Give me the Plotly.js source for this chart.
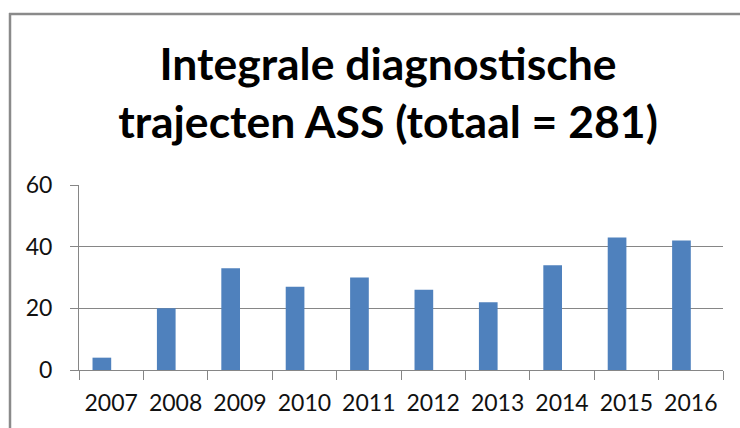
<!DOCTYPE html>
<html>
<head>
<meta charset="utf-8">
<script src="https://cdn.plot.ly/plotly-3.0.1.min.js"></script>
<style>
html,body{margin:0;padding:0;background:#fff;}
#chart{width:740px;height:428px;}
</style>
</head>
<body>
<div id="chart"></div>
<script>
const years = ["2007","2008","2009","2010","2011","2012","2013","2014","2015","2016"];
const counts = [4, 20, 33, 27, 30, 26, 22, 34, 43, 42];
const yTicks = [0, 20, 40, 60];
const titleText = "Integrale diagnostische<br>trajecten ASS (totaal = 281)";

const L = 79, R = 17, T = 185, B = 58, W = 740, H = 428;
const pw = W - L - R, ph = H - T - B;
const px = v => (v - L) / pw;
const py = v => (H - B - v) / ph;

// bar sits left of the category centre (as in a two-slot Excel group)
const BAR_W = 0.29;
const trace = {
  type: "bar",
  x: years,
  y: counts,
  width: BAR_W,
  offset: -BAR_W,
  marker: {color: "#4F81BD", line: {width: 0}},
  hoverinfo: "x+y"
};

const FONT = "Lato, Liberation Sans, Arial, sans-serif";

const layout = {
  width: W, height: H,
  margin: {l: L, r: R, t: T, b: B, pad: 0},
  paper_bgcolor: "#fff",
  plot_bgcolor: "#fff",
  showlegend: false,
  font: {family: FONT, color: "#111"},
  title: {
    text: titleText,
    font: {family: FONT, size: 44.5, color: "#000", weight: "bold"},
    x: 388/W, xanchor: "center",
    y: 1 - 80/H, yanchor: "top", yref: "container"
  },
  xaxis: {
    type: "category",
    showgrid: false,
    showline: true, linecolor: "#868686", linewidth: 1,
    ticks: "outside", tickson: "boundaries", ticklen: 9, tickcolor: "#868686", tickwidth: 1,
    tickfont: {family: FONT, size: 23, color: "#111"},
    tickangle: 0,
    ticklabelstandoff: 12,
    fixedrange: true
  },
  yaxis: {
    range: [0, 60],
    tickvals: yTicks,
    ticktext: yTicks.map(String),
    showgrid: true, gridcolor: "#868686", gridwidth: 1,
    showline: true, linecolor: "#868686", linewidth: 1,
    ticks: "outside", ticklen: 8, tickcolor: "#868686", tickwidth: 1,
    tickfont: {family: FONT, size: 23, color: "#111"},
    ticklabelstandoff: 13,
    zeroline: false,
    fixedrange: true
  },
  shapes: [
    {type: "line", xref: "paper", yref: "paper", x0: px(10), x1: px(10), y0: py(13), y1: py(430),
     line: {color: "#8a8a8a", width: 2.5}},
    {type: "line", xref: "paper", yref: "paper", x0: px(9), x1: px(742), y0: py(14), y1: py(14),
     line: {color: "#8a8a8a", width: 2.5}}
  ]
};

Plotly.newPlot("chart", [trace], layout, {displayModeBar: false, staticPlot: true});
</script>
</body>
</html>
